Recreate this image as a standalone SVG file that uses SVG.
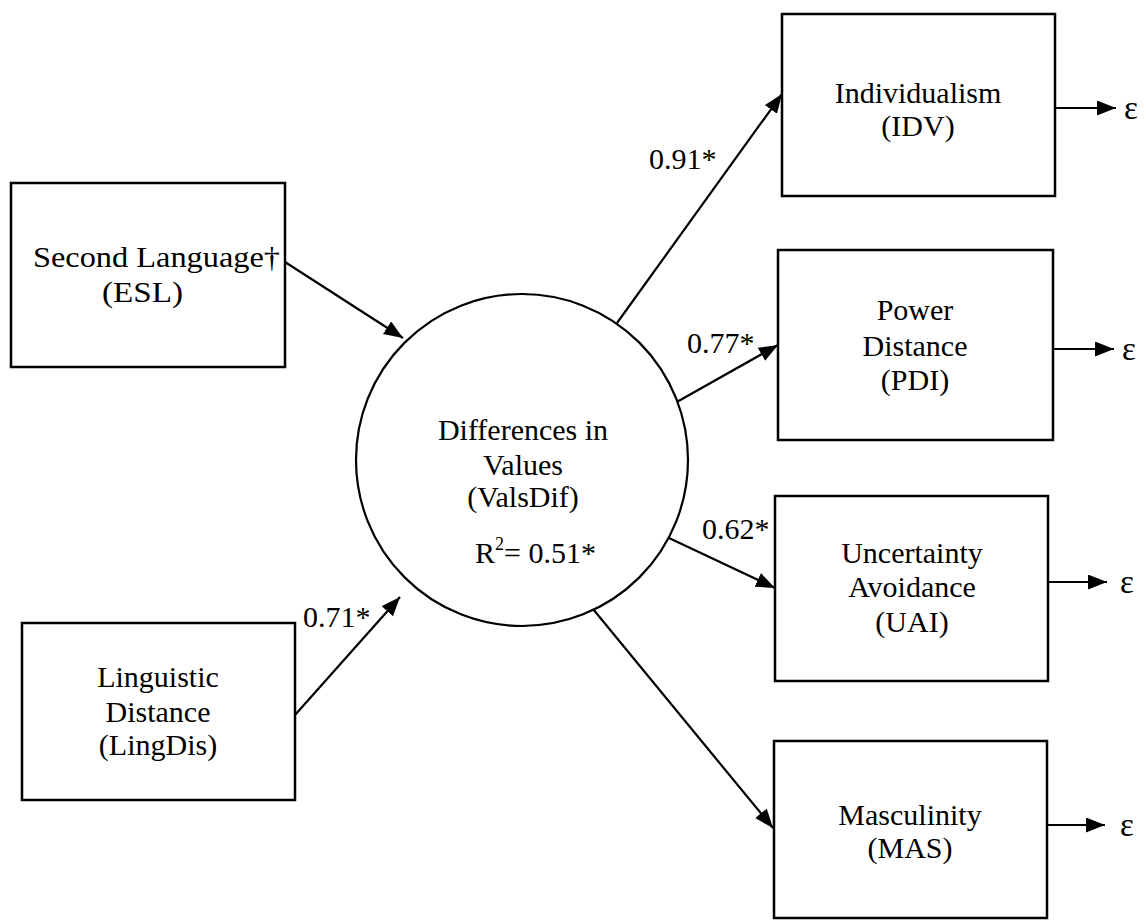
<svg xmlns="http://www.w3.org/2000/svg" width="1146" height="921" viewBox="0 0 1146 921">
<style>
  text { font-family: "Liberation Serif", "Times New Roman", serif; font-size: 30px; fill: #000; }
  .c { text-anchor: middle; }
  .eps { font-size: 33px; }
  .box { fill: #fff; stroke: #000; stroke-width: 2.5; }
  .node { fill: #fff; stroke: #000; stroke-width: 2.2; }
  .edge { fill: none; stroke: #000; stroke-width: 2.2; marker-end: url(#arrow); }
</style>
<defs>
  <marker id="arrow" markerUnits="userSpaceOnUse" markerWidth="22" markerHeight="18" refX="19" refY="7.5" orient="auto">
    <path d="M0,0 L19,7.5 L0,15 z" fill="#000"/>
  </marker>
</defs>
<rect width="1146" height="921" fill="#fff"/>

<g id="connectors">
  <line class="edge" x1="285" y1="262" x2="403" y2="338"/>
  <line class="edge" x1="295" y1="715" x2="400" y2="597"/>
  <line class="edge" x1="617" y1="323" x2="782" y2="94"/>
  <line class="edge" x1="675" y1="403" x2="778" y2="345"/>
  <line class="edge" x1="669" y1="538" x2="775" y2="588"/>
  <line class="edge" x1="593" y1="609" x2="773" y2="828"/>
  <line class="edge" x1="1055" y1="108" x2="1116" y2="108"/>
  <line class="edge" x1="1053" y1="349" x2="1114" y2="349"/>
  <line class="edge" x1="1048" y1="582" x2="1107" y2="582"/>
  <line class="edge" x1="1047" y1="825" x2="1105" y2="825"/>
  <text x="649" y="169">0.91*</text>
  <text x="687" y="353">0.77*</text>
  <text x="702" y="539">0.62*</text>
  <text x="303" y="627">0.71*</text>
  <text class="eps" x="1124" y="119">ε</text>
  <text class="eps" x="1122" y="360">ε</text>
  <text class="eps" x="1120" y="593">ε</text>
  <text class="eps" x="1120" y="836">ε</text>
</g>

<g id="esl">
  <rect class="box" x="11" y="183" width="274" height="184"/>
  <text x="33" y="267" textLength="247" lengthAdjust="spacingAndGlyphs">Second Language†</text>
  <text x="102" y="302" textLength="81" lengthAdjust="spacingAndGlyphs">(ESL)</text>
</g>

<g id="lingdis">
  <rect class="box" x="22" y="623" width="273" height="177"/>
  <text class="c" x="158" y="687">Linguistic</text>
  <text class="c" x="158" y="722">Distance</text>
  <text class="c" x="158" y="755">(LingDis)</text>
</g>

<g id="valsdif">
  <circle class="node" cx="522" cy="460" r="166"/>
  <text class="c" x="523" y="440">Differences in</text>
  <text class="c" x="523" y="475">Values</text>
  <text class="c" x="523" y="507">(ValsDif)</text>
  <text x="475" y="563">R<tspan font-size="18" dy="-13">2</tspan><tspan dy="13">= 0.51*</tspan></text>
</g>

<g id="idv">
  <rect class="box" x="782" y="14" width="273" height="182"/>
  <text class="c" x="918" y="103">Individualism</text>
  <text class="c" x="918" y="136">(IDV)</text>
</g>

<g id="pdi">
  <rect class="box" x="778" y="250" width="275" height="190"/>
  <text class="c" x="915" y="320">Power</text>
  <text class="c" x="915" y="356">Distance</text>
  <text class="c" x="915" y="390">(PDI)</text>
</g>

<g id="uai">
  <rect class="box" x="775" y="496" width="273" height="185"/>
  <text class="c" x="912" y="563">Uncertainty</text>
  <text class="c" x="912" y="597">Avoidance</text>
  <text class="c" x="912" y="632">(UAI)</text>
</g>

<g id="mas">
  <rect class="box" x="774" y="741" width="273" height="177"/>
  <text class="c" x="910" y="825">Masculinity</text>
  <text class="c" x="910" y="858">(MAS)</text>
</g>
</svg>
